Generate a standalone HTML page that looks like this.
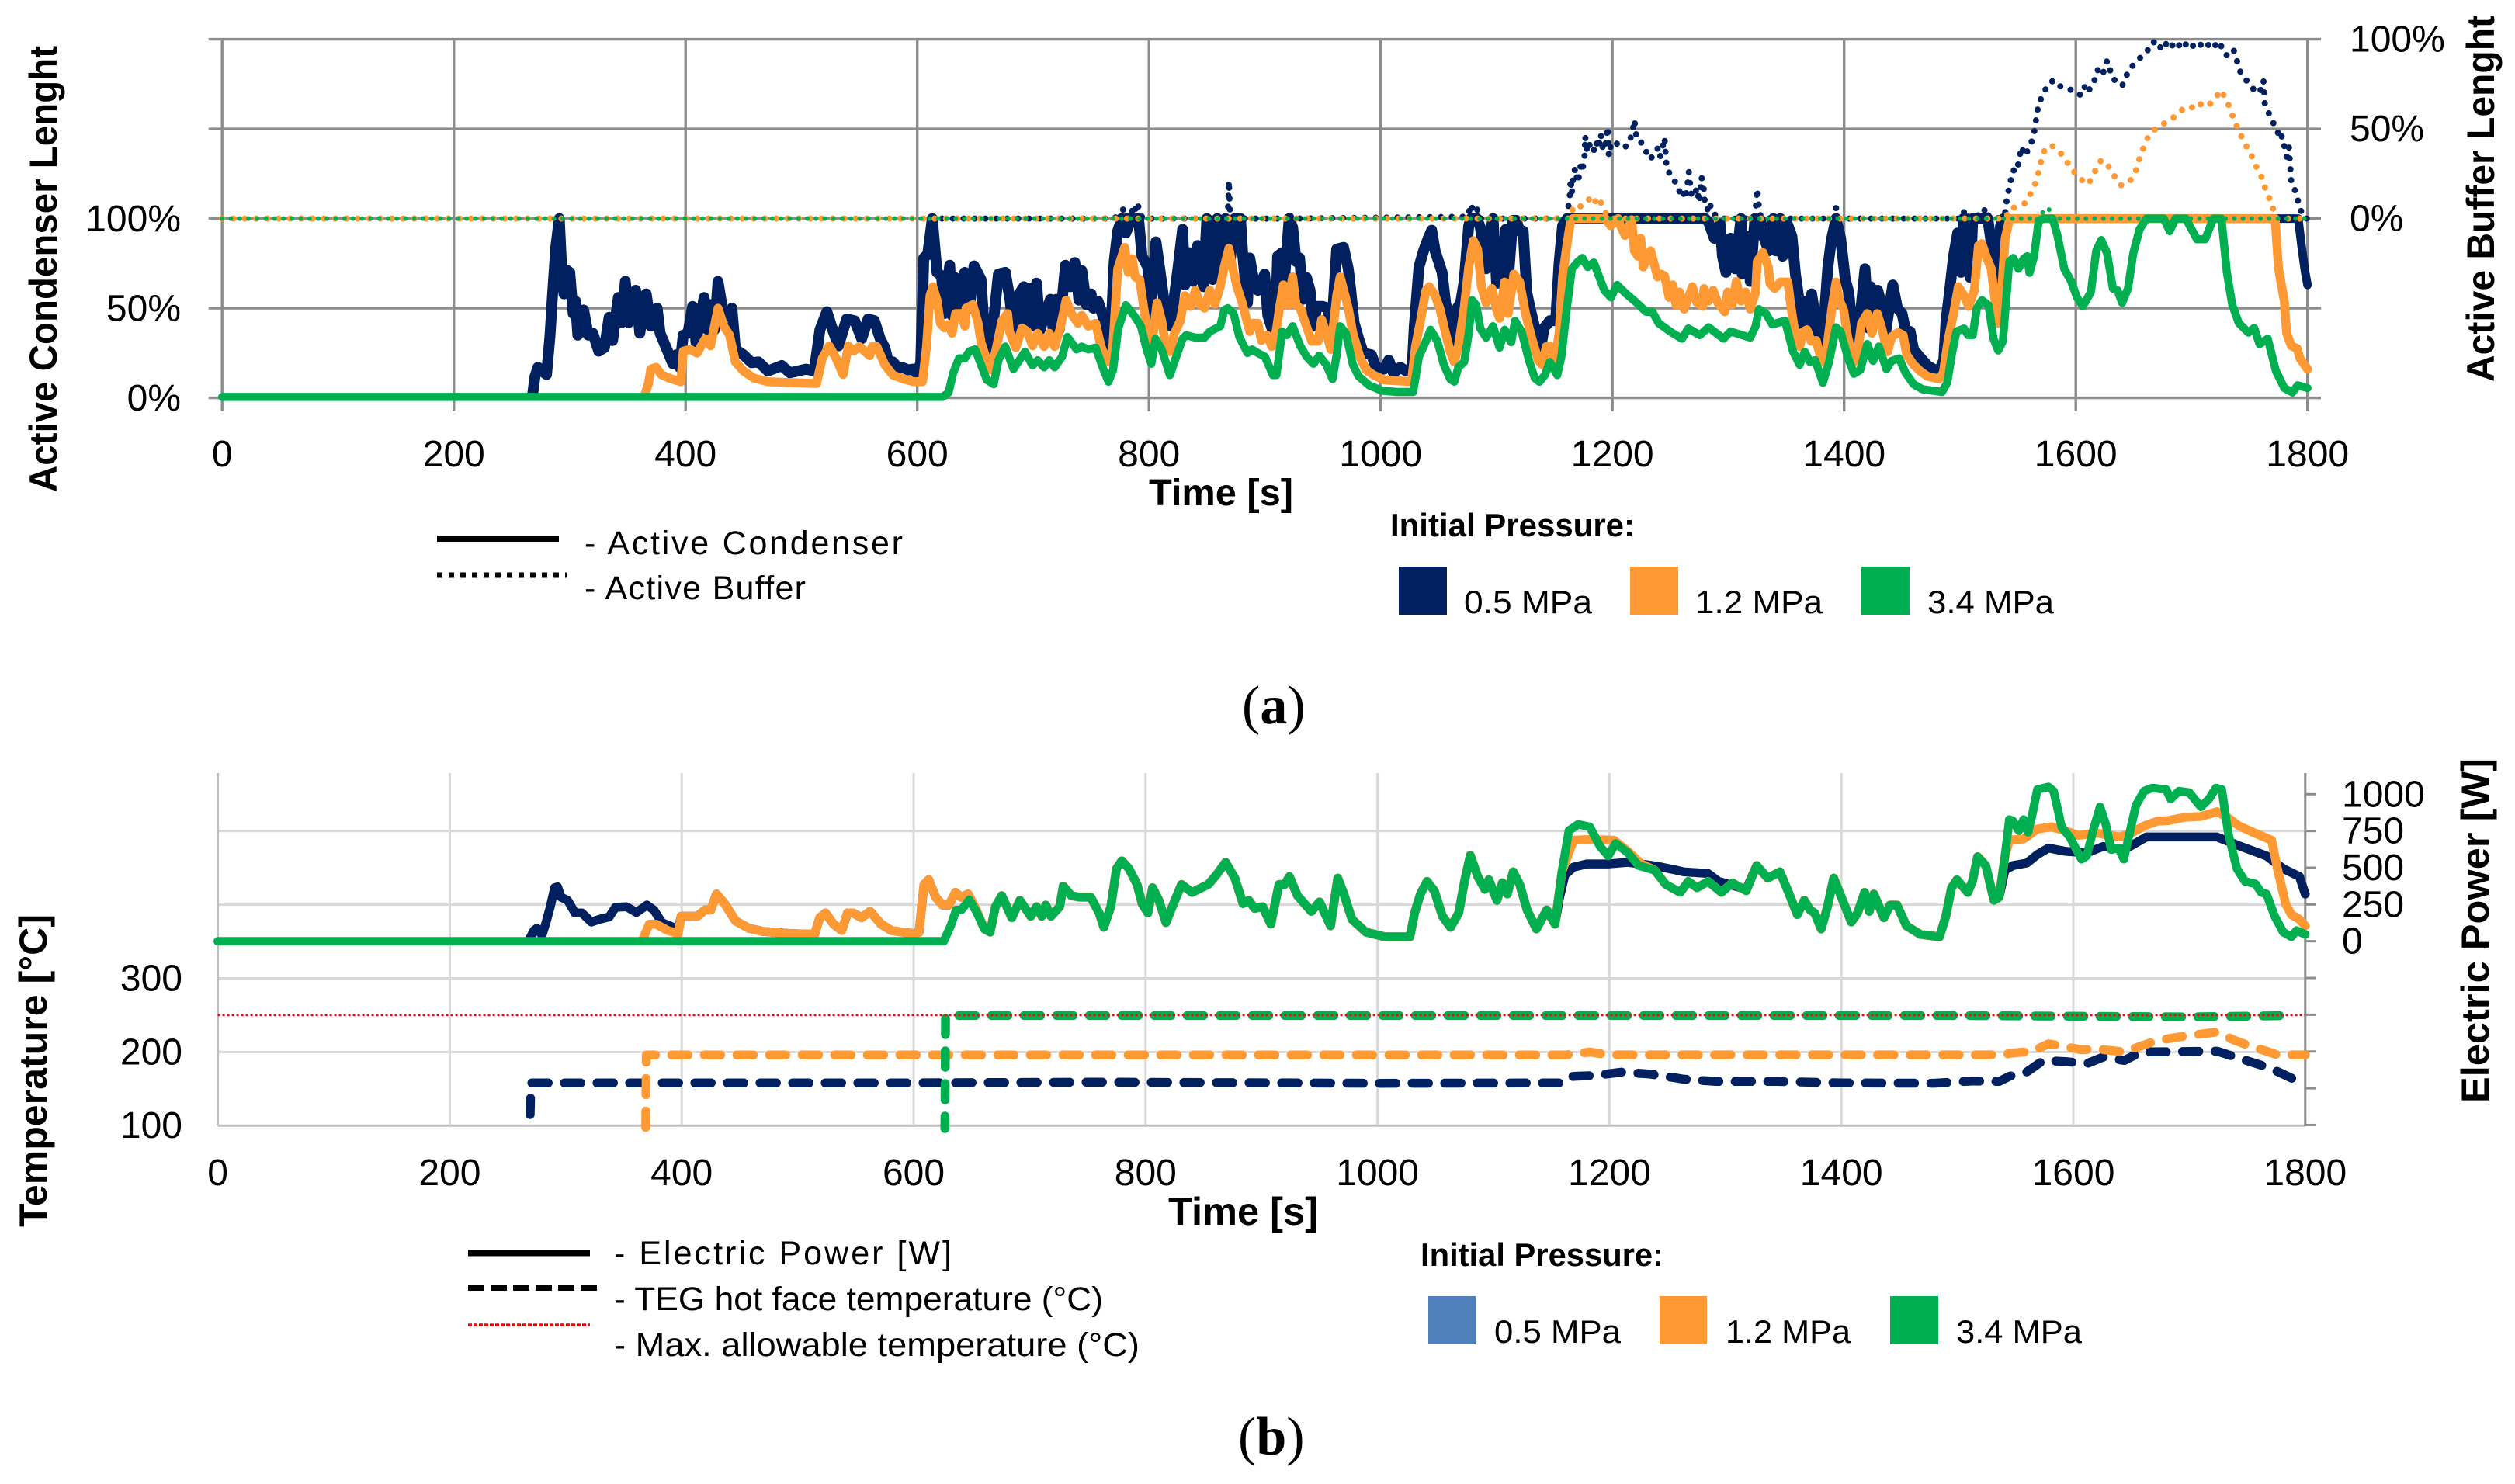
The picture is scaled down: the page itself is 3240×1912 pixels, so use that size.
<!DOCTYPE html>
<html lang="en">
<head>
<meta charset="utf-8">
<title>Active condenser length and electric power</title>
<style>
html,body{margin:0;padding:0;background:#fff}
svg{display:block}
text{font-family:"Liberation Sans",sans-serif;fill:#000}
.bold{font-weight:bold}
</style>
</head>
<body>
<svg id="figure" xmlns="http://www.w3.org/2000/svg" width="3240" height="1912" viewBox="0 0 3240 1912">
<rect x="0" y="0" width="3240" height="1912" fill="#fff"/>
<g id="chartA"></g>
<g id="chartB"></g>

<text class="bold" transform="translate(73,634) rotate(-90)" font-size="50" textLength="575" lengthAdjust="spacingAndGlyphs">Active Condenser Lenght</text>
<text class="bold" transform="translate(3213,492) rotate(-90)" font-size="50" textLength="472" lengthAdjust="spacingAndGlyphs">Active Buffer Lenght</text>
<text class="bold" x="1480" y="651" font-size="48" textLength="186" lengthAdjust="spacingAndGlyphs">Time [s]</text>

<line x1="563" x2="720" y1="694" y2="694" stroke="#000" stroke-width="8"/>
<text x="753" y="714" font-size="43" textLength="410">- Active Condenser</text>
<line x1="563" x2="730" y1="741" y2="741" stroke="#000" stroke-width="7" stroke-dasharray="7 8"/>
<text x="753" y="772" font-size="43" textLength="285">- Active Buffer</text>

<text class="bold" x="1791" y="691" font-size="42" textLength="315" lengthAdjust="spacingAndGlyphs">Initial Pressure:</text>
<rect x="1802" y="730" width="62" height="62" fill="#002060"/>
<text x="1886" y="790" font-size="42" textLength="165" lengthAdjust="spacingAndGlyphs">0.5 MPa</text>
<rect x="2100" y="730" width="62" height="62" fill="#FF9933"/>
<text x="2184" y="790" font-size="42" textLength="164" lengthAdjust="spacingAndGlyphs">1.2 MPa</text>
<rect x="2398" y="730" width="62" height="62" fill="#00B050"/>
<text x="2483" y="790" font-size="42" textLength="163" lengthAdjust="spacingAndGlyphs">3.4 MPa</text>

<text x="1600" y="932" font-size="70" style="font-family:'Liberation Serif',serif">(<tspan font-weight="bold">a</tspan>)</text>

<text class="bold" transform="translate(60,1581) rotate(-90)" font-size="50" textLength="403" lengthAdjust="spacingAndGlyphs">Temperature [°C]</text>
<text class="bold" transform="translate(3206,1421) rotate(-90)" font-size="50" textLength="444" lengthAdjust="spacingAndGlyphs">Electric Power [W]</text>
<text class="bold" x="1505" y="1578" font-size="50" textLength="193" lengthAdjust="spacingAndGlyphs">Time [s]</text>

<line x1="603" x2="760" y1="1614.5" y2="1614.5" stroke="#000" stroke-width="8"/>
<text x="791" y="1629" font-size="43" textLength="435">- Electric Power [W]</text>
<line x1="603" x2="770" y1="1659.5" y2="1659.5" stroke="#000" stroke-width="7" stroke-dasharray="21 8"/>
<text x="791" y="1688" font-size="43" textLength="630" lengthAdjust="spacingAndGlyphs">- TEG hot face temperature (°C)</text>
<line x1="603" x2="760" y1="1707" y2="1707" stroke="#f00" stroke-width="3.5" stroke-dasharray="5 2"/>
<text x="791" y="1747" font-size="43" textLength="677" lengthAdjust="spacingAndGlyphs">- Max. allowable temperature (°C)</text>

<text class="bold" x="1830" y="1631" font-size="42" textLength="313" lengthAdjust="spacingAndGlyphs">Initial Pressure:</text>
<rect x="1840" y="1670" width="61" height="62" fill="#5080BC"/>
<text x="1925" y="1730" font-size="42" textLength="163" lengthAdjust="spacingAndGlyphs">0.5 MPa</text>
<rect x="2138" y="1670" width="61" height="62" fill="#FF9933"/>
<text x="2223" y="1730" font-size="42" textLength="161" lengthAdjust="spacingAndGlyphs">1.2 MPa</text>
<rect x="2435" y="1670" width="62" height="62" fill="#00B050"/>
<text x="2520" y="1730" font-size="42" textLength="162" lengthAdjust="spacingAndGlyphs">3.4 MPa</text>

<text x="1595" y="1874" font-size="70" style="font-family:'Liberation Serif',serif">(<tspan font-weight="bold">b</tspan>)</text>
</svg>

<script>
// ---- shared axis data ----
const timeTicks = [0,200,400,600,800,1000,1200,1400,1600,1800];
const condenserGridValues = [0,50,100,150,200];
const condenserTickValues = [0,50,100];
const bufferTickValues = [0,50,100];
const temperatureGridValues = [100,200,300,400,500];
const temperatureTickValues = [100,200,300];
const powerTickValues = [0,250,500,750,1000];
const powerMinorTicks = [-1250,-1000,-750,-500,-250,0,250,500,750,1000];
const maxTemperature = [[0,250],[1800,250]];

// ---- panel (a): active condenser length [%], pairs of [time s, percent] ----
const condenserNavy = [[268,2],[270,12],[272.6,17],[276,15],[280,13],[283,35],[285,56],[288,84],[291,100],[293,73],[295,58],[298,71],[300,70],[303,47],[305,54],[307,35],[312,49],[316,35],[320,36],[325,26],[330,28],[334,45],[337,32],[342,56],[345,42],[348,65],[351,42],[357,60],[360.5,36],[366,58],[370,40],[375.5,50],[378,36],[382.6,29],[389,19],[392,24],[395,17],[398,35],[402,36],[406,51],[409,31],[416,56],[419,38],[421.6,52],[425,38],[428,65],[433,45],[440,50],[443,27],[450,24],[457,19.6],[463,20],[471,15],[483,18],[490,14],[497,15],[504,16],[511,15],[516,38],[522,48],[527,38],[532,29],[539,44],[546,43],[552,33],[557.5,44],[563,43],[568,33],[572,28],[575,20],[579,20],[583,17],[587,17],[592,15.6],[596,16],[600,13.4],[603,20],[605.6,78],[609,80],[613,100],[617,70],[621,68],[623.5,47],[628,74],[630,46],[633,67],[637,50],[641,70],[645,50],[649,73.6],[655,66],[658,36],[660,34],[664,17],[666,44],[670,69],[676,70],[680,55],[683,37],[686,56],[692,62],[693,40],[697,61],[700,40],[703,64],[706,38],[712,50],[715,55],[717.5,36],[720,55],[722.5,38],[728,74],[732,62],[736,75.5],[739.5,54.5],[742,71],[746,52],[750,58],[752,50],[756,54],[760,46],[764,28],[766,21],[770,76],[773,93],[776.5,100],[780,92],[785,100],[791,100],[794,79],[799,73],[801,44],[806,87],[811,64],[815,44],[819,40],[822,57],[825,72],[829,94],[831,63],[834.5,81],[838,65],[842,85],[847,62],[850,100],[855,66],[859,100],[862,68],[866,100],[870,76],[874,100],[879,100],[881,79],[885,53],[887,78],[890,67],[894,60],[899.8,69],[902.6,46],[906,39],[909,36],[911,79],[915,81],[917,66],[921,100],[924,95],[927,76],[930,78],[933,55],[936,67],[939,60],[942,40],[945,51],[950,51],[955,50],[957,30],[962,83],[968,84],[972,72],[974,61],[977,42],[981,33],[985,25],[992,24],[996,17],[1003,16],[1007,21],[1011,14],[1017,17],[1022,15],[1027,15],[1029,40],[1033,73],[1037,82],[1041,89],[1044,93.5],[1047,82],[1053,70],[1056,53],[1059,44],[1062,28],[1065,49],[1069,53],[1072,65],[1076,96],[1078,100],[1083,100],[1086,95],[1091,72],[1094,91],[1097,100],[1100,64],[1103,64],[1108,94],[1110,65],[1114,99],[1117,99],[1120,93],[1123,93],[1126,59],[1129,50],[1132,42],[1135,33],[1138,27],[1141,39],[1146,43],[1151,43],[1154,75],[1157,96],[1161,100],[1280,100],[1283,98],[1288,89],[1293,97],[1295,79],[1298,70],[1302,89],[1306,72],[1311,100],[1312,69],[1317,90],[1319,65],[1323,100],[1328,99],[1331,89],[1335,82],[1339,100],[1341,82],[1345,100],[1347,79],[1351,97],[1355,90],[1358,69],[1364,41],[1367,54],[1370,41],[1372,58],[1376,41],[1379,28],[1383,46],[1386,73],[1389,88],[1393,100],[1397,89],[1401,66],[1404,59],[1407,39],[1410,28],[1414,46],[1418,72],[1421,39],[1423,62],[1426,44],[1429,60],[1433,50],[1436,37],[1439,50],[1442,63],[1446,50],[1450,47],[1453,38],[1457,37],[1460,27],[1465,23],[1472,18],[1477,16],[1482,15],[1486,21],[1488,43],[1491,59],[1494.5,79],[1498,92],[1501,70],[1503,100],[1509,67],[1511,100],[1517,100],[1524,100],[1528,82],[1532,57],[1535,96],[1538,100]];
const condenserNavyTail = [[1538,100],[1792,100],[1795,84],[1798,70],[1800,63]];
const condenserOrange = [[365,2],[368,8],[370,16],[374.6,17],[379,13],[386,11],[396,9],[398,26],[404,27],[410,25],[417,33],[421.6,29],[428,50],[433,40],[438,35],[443,20],[450,15],[459,11],[471,9],[490,8.5],[513,8],[518,22],[524,29],[530,22],[536,13],[540.5,29],[545,26],[550,28.6],[559,23.5],[561,28.6],[565,28.6],[572,18.5],[579,12.7],[588,10.5],[597,9],[604.5,9],[608,28.6],[611,57],[613.5,62],[617,54.5],[620,41.5],[623.5,39],[627,41],[630,36],[633,47],[638,47],[641,40],[642,50],[648,52],[652.5,41.5],[655,31],[659,23],[664,15.6],[668,27],[673,43],[678,47],[679.5,37],[685,28],[690.5,39],[695,37],[699.5,29],[704,36],[709.5,28.6],[714,36],[718.5,28.6],[723,38],[728.5,54.5],[733,47],[738.6,41.6],[742,46],[747.6,40],[754,41.6],[758.6,28.6],[764,20],[768.7,27],[773,72],[779,84],[782,70],[785.5,77.6],[788,67.5],[792,66],[795.5,50],[799,36],[802,27],[807,53],[811,43],[814.5,28.6],[818,25.7],[822,36],[827,43],[831,57],[836,51],[840,60],[844,52],[848,50],[852.6,60],[857,52.4],[861.5,62],[865,73],[869,83.4],[872,73],[876,62],[880.5,53],[885,41.6],[887,37],[890,41.6],[894,41.6],[897,32],[902,35],[906,28.6],[910,38],[912.6,50],[916,63],[920,51.6],[924,67.5],[927,51.6],[930.5,50],[935,41.6],[940.5,31.5],[946,31.5],[949,43.7],[953,36],[957,27],[962,57],[965,67.5],[968.5,59],[972,50],[976,36],[982,23],[987.5,15.6],[994,12.7],[1003,10],[1026.6,9],[1030,28.6],[1034.4,43],[1039,60],[1042,62],[1047,57],[1051,50],[1055.6,37],[1060,25.7],[1063.5,20],[1067,28.6],[1072,50],[1076,73],[1080,87.7],[1083.6,83],[1087,62],[1091,53],[1096,61],[1100,49],[1102.6,44.4],[1107,64.6],[1110,47],[1115,69],[1120,64.6],[1125,47],[1130.5,33],[1136,21],[1139.5,18.5],[1143,28.6],[1146,29],[1150.6,21],[1154,36],[1157,67.5],[1160.7,85],[1164,99],[1166,100],[1194,100],[1198.4,96],[1202,98],[1205,100],[1207,96],[1211,90.6],[1216.6,99.3],[1219,82],[1222,79],[1224.4,89],[1226.6,73],[1233,82],[1239,67.5],[1242,69],[1245,68],[1249,56],[1252,63],[1255,51.6],[1258,59],[1262,49.5],[1269,62],[1273,53],[1278,51],[1279,61],[1283,54],[1287,60],[1291,53],[1297,48],[1299.4,59],[1303.4,52],[1307,65],[1311,54],[1315,59],[1319,49.5],[1323.6,59],[1325,76],[1330,81],[1334.6,73],[1336,64],[1340,61],[1345,64.6],[1351.5,64.6],[1354,51.6],[1357,38.7],[1361.6,28.6],[1365,37],[1368,38],[1371.6,31.5],[1376,32],[1380.6,20],[1385,27],[1389.5,50],[1393,64.6],[1396,54.5],[1399.6,49],[1403,34],[1408.5,20],[1412,27],[1415,41.6],[1420,47],[1424,36],[1428.6,47],[1432,40],[1437.5,25.7],[1441,34],[1446.5,36.5],[1451,35],[1454,24],[1460,18.5],[1465.5,15],[1472,12],[1482,10.5],[1485.6,14],[1490,33],[1494.5,47],[1498.6,62],[1503.5,57],[1507.5,51],[1512.4,60],[1516,85],[1519,86],[1522.6,79],[1527,72],[1530,56],[1532.5,41.6],[1536,60],[1539,89],[1542.6,99],[1545,100],[1772,100],[1775,72],[1780,54],[1782,36],[1786,29],[1791,27.5],[1793.5,22],[1800,16]];
const condenserGreen = [[0,0.5],[622,0.5],[627,3],[631,14],[636,22],[641,22],[645,26],[650,27],[655,18.5],[660,10],[666,7.6],[670,21],[676,28.6],[683,16],[693,25.7],[699.5,18],[704,21],[709.5,17],[714,21],[718.5,17],[725,23],[729.6,34],[737.5,27],[742,28.6],[747.6,27],[754,28],[760,17],[765,9],[769,15.6],[773.5,38.7],[780,51.7],[787,46],[793,40],[798,27],[802,19],[805.6,33],[811,27],[818,12.7],[823.5,23],[829,33],[832,35],[840,33.6],[848,33.6],[852.6,37],[861.5,40],[865,49],[868,50],[873,47],[878,34],[885,25],[889,27],[894,25],[900,23],[907,12.7],[910,12.7],[915,37],[919,35],[924,40],[930.5,29],[936,23],[942,19],[947,23.5],[953,18.5],[958.4,10.5],[962,24],[965,40],[970,36],[976,18.5],[981,12],[990,7],[1001,4],[1014,3.3],[1028,3.3],[1033,23],[1039,31.5],[1043,38],[1049,31.5],[1054.5,18.5],[1060,10.5],[1063.5,9],[1067,17],[1072,20],[1076,36],[1079,54.5],[1082.5,51.6],[1086,38.7],[1091,33.6],[1097,40],[1102.6,28],[1107,38],[1112.6,31],[1116,43],[1121.6,37],[1128,21],[1133,11],[1137,9],[1141.7,12.7],[1146,20],[1152.4,12.7],[1156,23],[1160.7,50],[1165,72],[1169.6,75.5],[1174,78],[1178.6,73],[1184,75.5],[1188.6,67.5],[1193,60],[1198.7,56],[1204,63],[1212,58],[1221,53],[1229,48],[1234.5,48],[1240,41.6],[1251,36.5],[1260,33],[1265.5,38.7],[1275.5,35],[1283,39.4],[1296,33],[1302,37],[1319,33.6],[1323.6,40],[1326.5,49.5],[1332.5,47],[1338,41],[1349,43],[1356,25.7],[1361.6,18.5],[1366,25.7],[1370.5,20],[1375,21],[1381.7,8.4],[1387,20],[1393,39.4],[1397,37],[1403,23],[1408.5,13.4],[1414,15.6],[1420,30],[1425,20.6],[1430,28.6],[1436.5,16],[1441,20.6],[1447.6,22],[1453,14],[1460,7.6],[1467.7,4.8],[1484.5,3.3],[1489,8.4],[1493.4,25.7],[1497,37],[1503.5,38.7],[1507,35],[1511,35],[1514.6,50],[1519,54.5],[1524.7,51.6],[1529,33],[1533,26.4],[1537,31.5],[1542.6,76],[1546,78],[1550.4,72],[1555,77.6],[1558,79],[1560,69.7],[1564,79],[1568,99],[1573,100],[1580,100],[1584,91],[1590,72],[1596,65],[1601,56],[1606,51],[1613,59],[1617.6,82],[1622,88],[1627,80.6],[1632,61],[1636,60],[1640,53],[1645,61],[1649.6,80.6],[1655,94],[1661,100],[1676,100],[1681,93],[1686,100],[1695,100],[1704.5,88.5],[1711.6,88.5],[1718.7,100],[1725.7,100],[1730.4,70],[1735,52],[1740.7,41.7],[1749,36.4],[1754,39],[1758.6,30],[1765.7,33],[1772.7,15],[1780,5.5],[1787,3],[1791.5,7],[1800,5.5]];

// ---- panel (a): active buffer length [%], pairs of [time s, percent] ----
const bufferNavy = [[612,0],[770,0],[775,3],[779,6],[781,1],[785,5],[787,2],[790,9],[792,3],[795,0],[867,0],[868,2],[869,21],[870,2],[873,0],[919,0],[921,4],[923,0],[1075,1],[1078,8],[1080,4],[1083,6],[1085,0],[1160,0],[1161,3.6],[1163,10],[1164,22],[1165,14],[1166,24],[1168,28],[1170,20],[1172,26],[1173,32],[1174,26],[1176,35],[1176.5,46],[1178,38],[1180,42],[1182,37],[1184,38],[1186,43],[1188,39],[1190,47],[1192,38],[1194,41],[1196,51],[1197,35],[1199,42],[1202,43],[1205,41],[1208,42],[1212,40],[1215,44],[1217,47],[1219,55],[1221,44],[1224,43],[1227,41],[1230,36],[1233,33],[1236,37],[1239,39],[1241,34],[1243,39],[1245,45],[1247,27],[1250,25],[1252,24],[1255,19],[1258,15],[1260,17],[1263,11],[1265,20],[1266,26],[1268,14],[1270,12],[1273,17],[1275,9],[1277,23],[1279,16],[1280,7],[1282,5],[1284,9],[1286,3],[1289,2],[1292,0],[1323,0],[1325,16.6],[1327,3],[1329,0],[1391,0],[1393,6],[1395,0],[1502,0],[1504,5],[1506,1],[1515,2],[1519,1],[1522,6],[1525,1],[1536,0],[1539,3],[1540,8.7],[1543,19],[1546,27],[1549,26],[1553,40],[1556,35],[1561,41],[1564,48],[1567,60.6],[1570,67],[1573,71],[1577,75.6],[1581,77],[1585,74],[1592,73],[1598,71],[1603.5,69],[1607,74],[1610.6,70],[1614,76],[1617.6,78],[1619,83],[1623,80],[1627,88],[1632,78],[1640,74],[1645.8,83],[1653,88],[1657.6,91],[1663,94.5],[1667,98.6],[1672,94.5],[1676,99],[1681,94.5],[1686,99],[1692,94.5],[1697,99],[1704,94.5],[1711,99],[1718,94.5],[1723,99],[1730,91],[1736,94.5],[1742,82],[1751.6,73],[1758.6,70],[1762,77],[1763,64.5],[1769,55],[1773.6,50],[1776,44],[1778,46],[1782,34.5],[1784,40],[1786,20],[1789,16],[1794,5],[1797,0],[1800,0]];
const bufferOrange = [[0,0],[1163,0],[1165,5],[1170,4],[1174,8.7],[1181,11],[1184,8],[1187,12],[1192,7],[1195,2],[1198,0],[1540,0],[1542,5],[1552,7.4],[1557,8.8],[1561,14],[1566,21],[1570,32],[1573,38],[1578.6,41],[1585,38],[1590,34],[1594,30],[1599,25.6],[1606,21],[1610.6,19],[1616.7,26.5],[1622,32.7],[1629,28.6],[1634,23],[1639,18.6],[1646,20],[1652,27],[1655,33.6],[1659,40.6],[1662,45],[1670,51],[1676,53],[1683,55.6],[1690,60],[1697.5,62.7],[1704.6,61],[1708,64],[1714,62.7],[1720,67],[1725.7,71.6],[1729.6,66],[1733,62],[1736,56],[1740,50],[1743.6,45],[1747,40.6],[1752,34.5],[1756,28.6],[1760.5,23],[1763,17.7],[1765.7,13],[1769,9],[1771,3.5],[1773,0],[1800,0]];
const bufferGreen = [[0,0],[1570,0],[1572,5],[1577,5],[1579,0],[1800,0]];

// ---- panel (b): electric power [W], pairs of [time s, watts] ----
const powerNavyStart = [[268,5],[272.6,73],[275,88],[279.6,41],[283,127],[286.7,235],[290.5,364],[293,370],[296,300],[301.7,278],[308,192],[314,192],[322,131],[329,149],[337.5,166],[343,231],[352.5,235],[361,196],[370,246],[376,213],[383,127],[392.5,95],[396,48]];
const powerOrangeStart = [[366,5],[372,116],[378,116],[388,73],[397,52]];
const powerEarlyShared = [[399.5,170],[406.6,170],[413.6,170],[420,213],[425,213],[430,321],[437,256],[446.5,138],[458,88],[470,67],[493.5,52],[514.6,47],[519,160],[524,192],[531,116],[538,73],[543,192],[548,192],[555,160],[562.5,203],[572,116],[581,73],[600,52],[604.7,62],[609,386],[613,418],[619,300],[625,246],[630.5,246],[636,332],[641,300],[647,321],[654,213]];
const powerGreenStart = [[0,0],[626,0],[632,105],[636.7,213],[641,213],[648,282],[654,203]];
const powerMidShared = [[661,84],[666,62],[670.5,235],[676,310],[684.6,160],[691.6,278],[701,170],[706,235],[710.5,170],[714,246],[718.4,170],[726,235],[729,375],[736,310],[743,300],[752.7,300],[760,192],[764,95],[770,235],[775,494],[779.5,547],[785.6,494],[792.7,386],[797,256],[802,192],[806,364],[811.5,278],[817.6,127],[823,235],[831,386],[840,332],[854,386],[861,450],[869,537],[877,429],[884,256],[889,278],[894,224],[901,235],[908,116],[915,386],[920,386],[924,440],[931,310],[943,203],[950,267],[959.5,105],[965.7,429],[971,321],[978,149],[990,62],[1006.5,30],[1028,30],[1032,192],[1037,321],[1042.7,407],[1049,343],[1056,170],[1063,95],[1070,192],[1075,407],[1080,584],[1086.5,440],[1092.6,353],[1096,418],[1103,278],[1107.6,397],[1112,321],[1117,472],[1122.6,386],[1129,213],[1137,84],[1146,213],[1153,116]];
const powerNavyMiddle = [[1157,300],[1161.6,450],[1169,504],[1180.5,526],[1199,526],[1216,537],[1237,515],[1245,504],[1258,483],[1264,472],[1285,461],[1294,407],[1303.6,386],[1318,353]];
const powerOrangeMiddle = [[1159,472],[1169,687],[1183,692],[1204,687],[1216,612],[1227.5,526],[1239,483],[1248.6,386]];
const powerGreenMiddle = [[1159,472],[1165,752],[1173,795],[1183,778],[1192,644],[1199,580],[1205.4,666],[1216,601],[1225,515],[1239,483],[1248.6,386]];
const powerLateAShared = [[1261,332],[1268,407],[1275.5,364],[1285,407],[1296.6,332],[1306,397],[1318,343]];
const powerLateBShared = [[1327,515],[1336.5,429],[1347,472],[1355,321],[1362,181],[1368,278],[1373,213],[1377,192],[1382.6,84],[1388,235],[1393.4,429],[1400,300],[1408.5,131],[1414,192],[1420,332],[1424,203],[1428,321],[1436.7,160],[1442,246],[1448,246],[1456,105],[1468,47],[1484.6,30],[1490,170],[1495,364],[1499.6,418],[1509,332],[1513,407],[1517.5,575],[1524.5,515],[1531.6,278],[1536,300]];
const powerNavyEnd = [[1541,483],[1548,515],[1560,532],[1569,590],[1578.6,634],[1593,612],[1611.5,601],[1625.6,644],[1644,623],[1663,709],[1724,709],[1741,655],[1766.6,580],[1781,494],[1795,440],[1800,321]];
const powerOrangeEnd = [[1541,580],[1545,687],[1557,696],[1569,763],[1581,778],[1593,752],[1604,720],[1621,735],[1640,709],[1649,731],[1661,784],[1672.6,817],[1682,821],[1696,843],[1710,849],[1724,881],[1733.7,838],[1743,784],[1755,741],[1771,687],[1776,494],[1783,256],[1788,181],[1795,149],[1800,105]];
const powerGreenEnd = [[1541,580],[1544.8,828],[1548,818],[1553,752],[1557,828],[1561,741],[1564.5,860],[1569,1032],[1578.6,1050],[1583,1021],[1590,774],[1597,709],[1607,558],[1611.5,580],[1617,752],[1623,914],[1628,795],[1632.6,623],[1639,634],[1643.5,558],[1649,752],[1654,925],[1661,1021],[1668,1043],[1680,1032],[1684,968],[1691,1021],[1700,1011],[1710,914],[1717,968],[1723,1043],[1728,1032],[1733.7,731],[1741,494],[1748,407],[1757,390],[1762,332],[1766.6,321],[1773.6,170],[1781,62],[1788,30],[1792.5,73],[1800,47]];

// ---- panel (b): TEG hot face temperature [°C], pairs of [time s, °C] ----
const temperatureNavy = [[269,96],[270,158],[600,158],[760,159],[1000,157.5],[1160,158],[1165,165],[1169,167],[1187,168],[1211,172.6],[1235,170],[1252,166],[1264,163],[1292,160],[1345,160],[1400,158],[1480,157.6],[1513,160.6],[1536,160],[1545,167],[1560,173],[1574,188.5],[1593,187],[1611.5,184],[1625.6,193],[1644,188.5],[1658.5,200],[1724,201],[1736,195],[1762,182],[1776,173.5],[1790,163]];
const temperatureOrange = [[369,96],[369.5,195.8],[1160,195.8],[1170,197],[1183,200],[1199,196],[1540,196],[1545,198],[1565,201],[1578.6,211],[1590,208],[1607,203],[1621,204],[1644,200],[1658,208],[1672.6,215.6],[1696,221.6],[1724,227],[1738,216.5],[1752.5,208],[1766.6,201],[1776,196],[1800,196]];
const temperatureGreen = [[627,96],[627.5,249.5],[1500,249.5],[1650,248],[1700,247.6],[1790,249.5]];

// ---- axis functions ----
const xA = t => 286.2 + t * 1.4925;
const yCondenser = v => 512.6 - v * 2.31;
const yBuffer = v => 281.6 - v * 2.31;
const xB = t => 280.6 + t * 1.494;
const yTemperature = v => 1450.2 - (v - 100) * 0.9485;
const yPower = v => 1212.7 - v * 0.1894;

const NS = 'http://www.w3.org/2000/svg';
const navy = '#002060', orange = '#FF9933', green = '#00B050';
const chartA = document.getElementById('chartA');
const chartB = document.getElementById('chartB');

function makeLine(parent, x1, y1, x2, y2, color, width) {
  const el = document.createElementNS(NS, 'line');
  el.setAttribute('x1', x1); el.setAttribute('y1', y1);
  el.setAttribute('x2', x2); el.setAttribute('y2', y2);
  el.setAttribute('stroke', color); el.setAttribute('stroke-width', width);
  parent.appendChild(el);
  return el;
}
function makeLabel(parent, x, y, str, anchor) {
  const el = document.createElementNS(NS, 'text');
  el.setAttribute('x', x); el.setAttribute('y', y);
  el.setAttribute('font-size', 48);
  el.setAttribute('text-anchor', anchor);
  el.textContent = str;
  parent.appendChild(el);
  return el;
}
function makeSeries(parent, points, xf, yf, color, width, dash, offset) {
  const el = document.createElementNS(NS, 'path');
  el.setAttribute('d', points.map((p, i) => (i ? 'L' : 'M') + xf(p[0]).toFixed(1) + ' ' + yf(p[1]).toFixed(1)).join(''));
  el.setAttribute('fill', 'none');
  el.setAttribute('stroke', color);
  el.setAttribute('stroke-width', width);
  el.setAttribute('stroke-linejoin', 'round');
  el.setAttribute('stroke-linecap', 'round');
  if (dash) el.setAttribute('stroke-dasharray', dash);
  if (offset) el.setAttribute('stroke-dashoffset', offset);
  parent.appendChild(el);
  return el;
}

// ---- panel (a) grid and ticks ----
condenserGridValues.forEach(v => {
  const el = makeLine(chartA, 268.7, yCondenser(v), 2990, yCondenser(v), '#8c8c8c', 3.4);
  
  
});
timeTicks.forEach(t => {
  const el = makeLine(chartA, xA(t), 50.6, xA(t), 530, '#8c8c8c', 3.4);
  
  
  const lb = makeLabel(chartA, xA(t), 601, String(t), 'middle');
  
  
});
condenserTickValues.forEach(v => {
  const lb = makeLabel(chartA, 233, yCondenser(v) + 16.5, v + '%', 'end');
  
  
});
bufferTickValues.forEach(v => {
  const lb = makeLabel(chartA, 3027, yBuffer(v) + 16, v + '%', 'start');
  
  
});

// ---- panel (a) series ----
const sNavyC = makeSeries(chartA, condenserNavy, xA, yCondenser, navy, 14);


const sNavyTail = makeSeries(chartA, condenserNavyTail, xA, yCondenser, navy, 11);


const sNavyB = makeSeries(chartA, bufferNavy, xA, yBuffer, navy, 8, '0 14');


const sOrangeC = makeSeries(chartA, condenserOrange, xA, yCondenser, orange, 11.5);


const sOrangeB = makeSeries(chartA, bufferOrange, xA, yBuffer, orange, 8, '0 14.57');


const sGreenC = makeSeries(chartA, condenserGreen, xA, yCondenser, green, 10.5);


const sGreenB = makeSeries(chartA, bufferGreen, xA, yBuffer, green, 6, '0 11.25');



// ---- panel (b) grid and ticks ----
temperatureGridValues.forEach((v, i) => {
  const el = makeLine(chartB, xB(0), yTemperature(v), xB(1800), yTemperature(v), i === 0 ? '#bfbfbf' : '#d9d9d9', 3);
  
  
});
timeTicks.forEach((t, i) => {
  const el = makeLine(chartB, xB(t), 996, xB(t), 1450, i === 0 ? '#bfbfbf' : '#d9d9d9', 3);
  
  
  const lb = makeLabel(chartB, xB(t), 1527, String(t), 'middle');
  
  
});
const rightAxis = makeLine(chartB, xB(1800), 996, xB(1800), 1451, '#8c8c8c', 3);


powerMinorTicks.forEach(v => {
  const el = makeLine(chartB, xB(1800), yPower(v), 2984, yPower(v), '#8c8c8c', 3);
  
  
});
temperatureTickValues.forEach(v => {
  const lb = makeLabel(chartB, 235, yTemperature(v) + 16, String(v), 'end');
  
  
});
powerTickValues.forEach(v => {
  const lb = makeLabel(chartB, 3017, yPower(v) + 16, String(v), 'start');
  
  
});

// ---- panel (b) series ----
const powerNavy = powerNavyStart.concat(powerEarlyShared, powerMidShared, powerNavyMiddle, powerLateBShared, powerNavyEnd);
const powerOrange = powerOrangeStart.concat(powerEarlyShared, powerMidShared, powerOrangeMiddle, powerLateAShared, powerLateBShared, powerOrangeEnd);
const powerGreen = powerGreenStart.concat(powerMidShared, powerGreenMiddle, powerLateAShared, powerLateBShared, powerGreenEnd);

const pNavy = makeSeries(chartB, powerNavy, xB, yPower, navy, 11.5);


const tNavy = makeSeries(chartB, temperatureNavy, xB, yTemperature, navy, 11.5, '21 21', 24);


const pOrange = makeSeries(chartB, powerOrange, xB, yPower, orange, 11.5);


const tOrange = makeSeries(chartB, temperatureOrange, xB, yTemperature, orange, 11.5, '21 21', 40.5);


const pGreen = makeSeries(chartB, powerGreen, xB, yPower, green, 11);


const tGreen = makeSeries(chartB, temperatureGreen, xB, yTemperature, green, 11.5, '21 21', 5);


const maxLine = makeSeries(chartB, maxTemperature, xB, yTemperature, '#ff0000', 2.5, '3 3');
maxLine.setAttribute('stroke-linecap', 'butt');


</script>
</body>
</html>
